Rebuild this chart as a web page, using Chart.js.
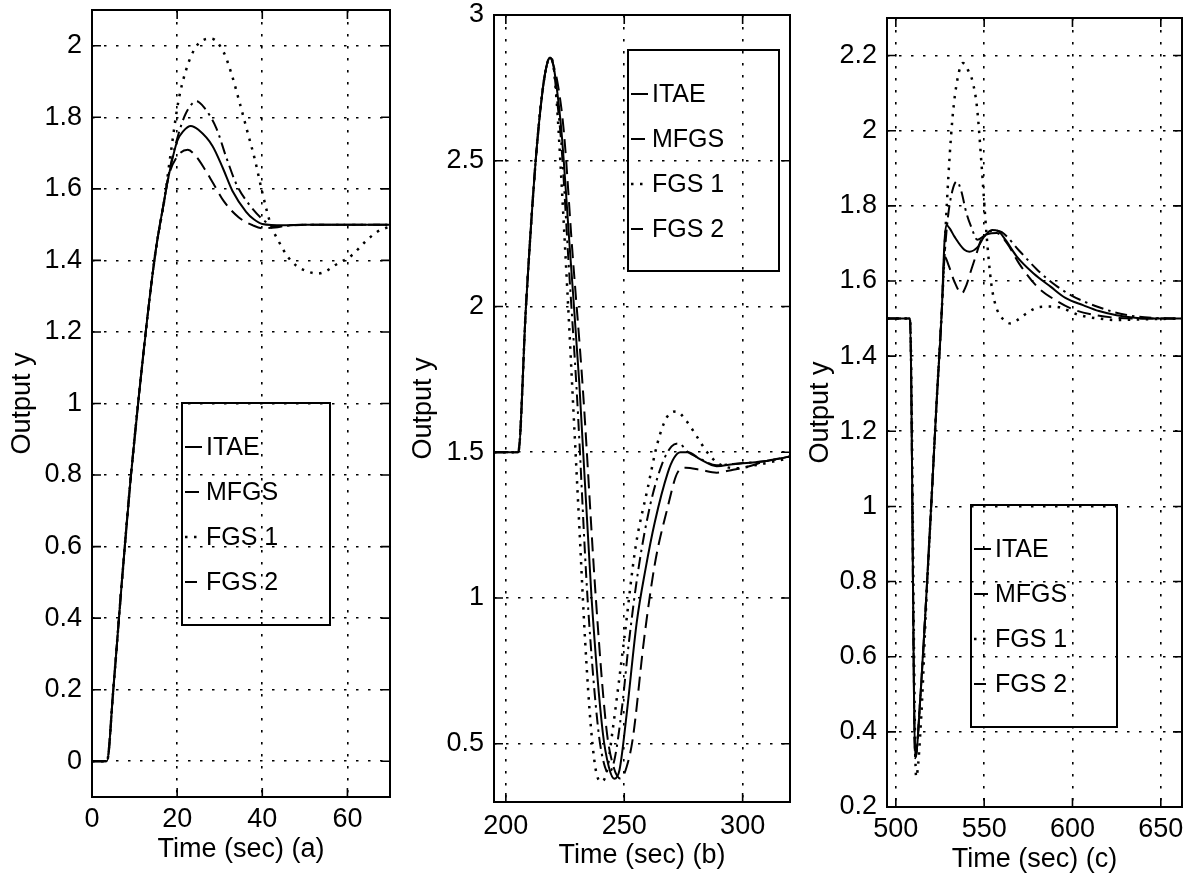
<!DOCTYPE html>
<html><head><meta charset="utf-8">
<script src="https://cdn.jsdelivr.net/npm/chart.js@4.4.1/dist/chart.umd.min.js"></script>
<style>
html,body{margin:0;padding:0;background:#fff;width:1194px;height:879px;overflow:hidden;}
canvas{position:absolute;top:0;}
</style></head><body>
<canvas id="ca" width="398" height="879" style="left:0px;width:398px;height:879px"></canvas>
<canvas id="cb" width="399" height="879" style="left:398px;width:399px;height:879px"></canvas>
<canvas id="cc" width="397" height="879" style="left:797px;width:397px;height:879px"></canvas>
<script>
// ---------- series names ----------
const seriesNames = ['ITAE', 'MFGS', 'FGS 1', 'FGS 2'];

// ---------- panel (a) ----------
const aXTicks = [0, 20, 40, 60];
const aYTicks = [0, 0.2, 0.4, 0.6, 0.8, 1, 1.2, 1.4, 1.6, 1.8, 2];
const aRampT = [0, 3.5, 5, 7, 9, 11, 13, 15, 17];
const aRampY = [0, 0, 0.2, 0.5, 0.78, 1.02, 1.24, 1.43, 1.57];
const aItaeT = [18, 20, 21.5, 23.2, 25, 28.3, 30.7, 33, 36.2, 38, 40, 45, 50, 70];
const aItaeY = [1.635, 1.733, 1.762, 1.776, 1.765, 1.72, 1.659, 1.594, 1.536, 1.515, 1.502, 1.498, 1.5, 1.5];
const aMfgsT = [18, 20, 22.5, 24.5, 26.5, 28.5, 31, 34.5, 37.8, 40, 43, 46, 50, 70];
const aMfgsY = [1.635, 1.69, 1.709, 1.69, 1.655, 1.615, 1.565, 1.52, 1.498, 1.49, 1.492, 1.498, 1.5, 1.5];
const aFgs1T = [18.5, 20.3, 22.3, 24.3, 26, 28, 31, 32.7, 34.7, 36.5, 38.3, 40, 42, 44, 46, 48, 50, 53, 55, 57, 61, 64, 67, 70];
const aFgs1Y = [1.7, 1.845, 1.94, 1.995, 2.015, 2.02, 1.98, 1.924, 1.84, 1.76, 1.68, 1.59, 1.5, 1.45, 1.41, 1.385, 1.372, 1.363, 1.37, 1.386, 1.414, 1.45, 1.48, 1.495];
const aFgs2T = [18, 20, 22, 24.6, 26.5, 29.2, 31.6, 34, 37, 39.9, 43, 46, 50, 70];
const aFgs2Y = [1.64, 1.74, 1.81, 1.845, 1.825, 1.77, 1.686, 1.611, 1.555, 1.517, 1.495, 1.497, 1.5, 1.5];

// ---------- panel (b) ----------
const bXTicks = [200, 250, 300];
const bYTicks = [0.5, 1, 1.5, 2, 2.5, 3];
const bStartT = [195, 205.2, 208.5, 212.6, 215.5, 217.5, 218.7, 220];
const bStartY = [1.5, 1.5, 2.0, 2.5, 2.74, 2.835, 2.853, 2.83];
const bItaeT = [221.5, 223.5, 227, 231, 236.2, 240.9, 243.5, 245.8, 248, 251, 255.3, 259, 262.9, 268.4, 271, 273.7, 277, 282, 289, 296, 310, 320];
const bItaeY = [2.75, 2.6, 2.2, 1.74, 1.0, 0.541, 0.42, 0.38, 0.41, 0.6, 0.918, 1.1, 1.26, 1.43, 1.48, 1.5, 1.5, 1.476, 1.452, 1.459, 1.47, 1.485];
const bMfgsT = [222, 224.5, 228, 232.5, 238, 242.5, 245.5, 248.5, 251, 253.6, 258.4, 263, 268, 272.5, 276, 282, 289, 296, 302, 310, 320];
const bMfgsY = [2.76, 2.6, 2.2, 1.72, 1.0, 0.55, 0.42, 0.38, 0.42, 0.517, 0.86, 1.12, 1.3, 1.43, 1.447, 1.44, 1.43, 1.44, 1.45, 1.47, 1.485];
const bFgs1T = [221.5, 223, 226, 228.5, 231, 233.5, 236, 238.5, 240.5, 242.5, 245, 250, 254.7, 260, 264, 268, 272, 276, 280.5, 285, 290, 297.5, 305, 320];
const bFgs1Y = [2.7, 2.5, 2.05, 1.65, 1.25, 0.85, 0.55, 0.39, 0.37, 0.4, 0.54, 0.86, 1.17, 1.38, 1.53, 1.62, 1.64, 1.61, 1.556, 1.5, 1.46, 1.445, 1.455, 1.48];
const bFgs2T = [221.5, 223.5, 226.5, 230, 234.5, 239, 241.5, 243.5, 246, 249, 252, 256, 261, 266, 270, 273, 277, 282, 289, 296, 310, 320];
const bFgs2Y = [2.72, 2.55, 2.15, 1.7, 1.0, 0.55, 0.43, 0.4, 0.45, 0.62, 0.85, 1.1, 1.32, 1.46, 1.52, 1.53, 1.5, 1.478, 1.455, 1.46, 1.47, 1.485];

// ---------- panel (c) ----------
const cXTicks = [500, 550, 600, 650];
const cYTicks = [0.2, 0.4, 0.6, 0.8, 1, 1.2, 1.4, 1.6, 1.8, 2, 2.2];
const cStartT = [495, 508, 511, 514, 517, 520, 523, 526];
const cStartY = [1.5, 1.5, 0.33, 0.5, 0.74, 1.0, 1.27, 1.52];
const cFgs1StartT = [495, 508, 511.5, 514.5, 517, 520, 523, 526];
const cFgs1StartY = [1.5, 1.5, 0.28, 0.45, 0.72, 1.0, 1.27, 1.52];
const cItaeT = [527.5, 528.6, 530.5, 533.2, 538.8, 541.6, 546.3, 550, 554.5, 558, 562, 568.5, 578, 587.6, 596, 606.3, 615, 625, 643.6, 662];
const cItaeY = [1.7, 1.749, 1.74, 1.718, 1.683, 1.678, 1.69, 1.718, 1.736, 1.733, 1.71, 1.665, 1.62, 1.585, 1.555, 1.535, 1.52, 1.509, 1.5, 1.5];
const cMfgsT = [527.6, 530, 533, 537.3, 540, 542.7, 545.5, 548.3, 552, 557, 563, 570, 580, 590, 600, 612, 625, 640, 662];
const cMfgsY = [1.665, 1.64, 1.6, 1.567, 1.59, 1.63, 1.67, 1.71, 1.725, 1.728, 1.7, 1.645, 1.585, 1.55, 1.525, 1.51, 1.502, 1.5, 1.5];
const cFgs1T = [529, 532, 535, 538, 541, 543.5, 546, 548.6, 551.3, 554, 556.5, 559.6, 565, 570, 574, 581.5, 588, 592.7, 604, 615, 625, 640, 662];
const cFgs1Y = [1.816, 2.03, 2.14, 2.18, 2.16, 2.13, 2.06, 1.905, 1.727, 1.594, 1.535, 1.505, 1.487, 1.5, 1.514, 1.531, 1.532, 1.53, 1.509, 1.5, 1.496, 1.498, 1.5];
const cFgs2T = [527.5, 529.5, 532, 534.5, 537, 540, 543, 546, 550, 555, 560, 570, 580, 590, 600, 615, 630, 645, 662];
const cFgs2Y = [1.66, 1.77, 1.84, 1.865, 1.84, 1.78, 1.74, 1.71, 1.72, 1.735, 1.73, 1.68, 1.63, 1.59, 1.56, 1.53, 1.51, 1.502, 1.5];

// ---------- helpers ----------
function pts(tArr, yArr) { return tArr.map((t, i) => ({ x: t, y: yArr[i] })); }
const FONT = "'Liberation Sans', Arial, sans-serif";
const lineStyles = [
  { dash: [], width: 2 },                 // ITAE solid
  { dash: [14, 7], width: 2 },            // MFGS dashed
  { dash: [2.5, 6.5], width: 2.5 },       // FGS 1 dotted
  { dash: [12, 5, 2.5, 5], width: 2 }     // FGS 2 dash-dot
];
function fmt(v) { return String(+(+v).toFixed(2)); }

const framePlugin = {
  id: 'frame',
  afterDraw(chart, args, opts) {
    const { ctx, chartArea: { left, right, top, bottom }, scales: { x, y } } = chart;
    ctx.save();
    ctx.setLineDash([]);
    ctx.strokeStyle = '#000';
    ctx.lineWidth = 2;
    ctx.strokeRect(left, top, right - left, bottom - top);
    const tk = 9;
    ctx.lineWidth = 1.6;
    ctx.beginPath();
    y.ticks.forEach(t => {
      const py = y.getPixelForValue(t.value);
      ctx.moveTo(left, py); ctx.lineTo(left + tk, py);
      ctx.moveTo(right, py); ctx.lineTo(right - tk, py);
    });
    x.ticks.forEach(t => {
      const px = x.getPixelForValue(t.value);
      ctx.moveTo(px, bottom); ctx.lineTo(px, bottom - tk);
      ctx.moveTo(px, top); ctx.lineTo(px, top + tk);
    });
    ctx.stroke();
    // legend box
    const L = opts.legend;
    if (L) {
      ctx.lineWidth = 2;
      ctx.strokeRect(L.x, L.y, L.w, L.h);
      ctx.font = '25px ' + FONT;
      ctx.fillStyle = '#000';
      ctx.textBaseline = 'middle';
      ctx.textAlign = 'left';
      seriesNames.forEach((name, i) => {
        const ry = L.y + 44 + 45 * i;
        const st = lineStyles[i];
        ctx.setLineDash(st.dash);
        ctx.lineWidth = st.width;
        ctx.beginPath();
        ctx.moveTo(L.x + 3, ry); ctx.lineTo(L.x + 20, ry);
        ctx.stroke();
        ctx.setLineDash([]);
        ctx.fillText(name, L.x + 24, ry + 1);
      });
    }
    ctx.restore();
  }
};

function makePanel(id, P) {
  const datasets = P.series.map((s, i) => ({
    label: seriesNames[i],
    data: pts(s[0], s[1]),
    borderColor: '#000',
    borderWidth: lineStyles[i].width,
    borderDash: lineStyles[i].dash,
    borderCapStyle: 'butt',
    pointRadius: 0,
    fill: false,
    cubicInterpolationMode: 'monotone'
  }));
  const tickFont = { family: FONT, size: 27 };
  new Chart(document.getElementById(id), {
    type: 'line',
    data: { datasets },
    plugins: [framePlugin],
    options: {
      responsive: false,
      animation: false,
      devicePixelRatio: 1,
      layout: { padding: { left: 0, right: P.padR, top: P.top, bottom: 0 } },
      plugins: {
        legend: { display: false },
        tooltip: { enabled: false },
        frame: { legend: P.legend }
      },
      scales: {
        x: {
          type: 'linear', min: P.xMin, max: P.xMax,
          afterBuildTicks: s => { s.ticks = P.xTicks.map(v => ({ value: v })); },
          afterFit: s => { s.height = P.xH; s.paddingLeft = 0; s.paddingRight = 0; s.paddingTop = 0; s.paddingBottom = 0; },
          grid: { color: '#000', lineWidth: 1.6, drawTicks: false },
          border: { display: false, dash: [2.5, 9.5] },
          ticks: { color: '#000', font: tickFont, padding: P.xTickPad, maxRotation: 0, autoSkip: false, callback: fmt },
          title: { display: true, text: P.xTitle, color: '#000', font: tickFont, padding: { top: 0, bottom: P.xTitlePad } }
        },
        y: {
          type: 'linear', min: P.yMin, max: P.yMax,
          afterBuildTicks: s => { s.ticks = P.yTicks.map(v => ({ value: v })); },
          afterFit: s => { s.width = P.yW; s.paddingTop = 0; s.paddingBottom = 0; s.paddingLeft = 0; s.paddingRight = 0; },
          grid: { color: '#000', lineWidth: 1.6, drawTicks: false },
          border: { display: false, dash: [2.5, 9.5] },
          ticks: { color: '#000', font: tickFont, padding: 10, autoSkip: false, callback: fmt },
          title: { display: true, text: 'Output y', color: '#000', font: tickFont, padding: { top: P.yTitlePad, bottom: 0 } }
        }
      }
    }
  });
}

makePanel('ca', {
  series: [
    [aRampT.concat(aItaeT), aRampY.concat(aItaeY)],
    [aRampT.concat(aMfgsT), aRampY.concat(aMfgsY)],
    [aRampT.concat(aFgs1T), aRampY.concat(aFgs1Y)],
    [aRampT.concat(aFgs2T), aRampY.concat(aFgs2Y)]
  ],
  xMin: 0, xMax: 70, yMin: -0.1, yMax: 2.1, xTicks: aXTicks, yTicks: aYTicks,
  padR: 8, top: 10, xH: 82, yW: 92, xTickPad: 6, xTitlePad: 13, yTitlePad: 6,
  xTitle: 'Time (sec) (a)',
  legend: { x: 182, y: 403, w: 148, h: 222 }
});

makePanel('cb', {
  series: [
    [bStartT.concat(bItaeT), bStartY.concat(bItaeY)],
    [bStartT.concat(bMfgsT), bStartY.concat(bMfgsY)],
    [bStartT.concat(bFgs1T), bStartY.concat(bFgs1Y)],
    [bStartT.concat(bFgs2T), bStartY.concat(bFgs2Y)]
  ],
  xMin: 195, xMax: 320, yMin: 0.3, yMax: 3, xTicks: bXTicks, yTicks: bYTicks,
  padR: 7, top: 15, xH: 77, yW: 96, xTickPad: 8, xTitlePad: 7, yTitlePad: 9,
  xTitle: 'Time (sec) (b)',
  legend: { x: 230, y: 50, w: 151, h: 221 }
});

makePanel('cc', {
  series: [
    [cStartT.concat(cItaeT), cStartY.concat(cItaeY)],
    [cStartT.concat(cMfgsT), cStartY.concat(cMfgsY)],
    [cFgs1StartT.concat(cFgs1T), cFgs1StartY.concat(cFgs1Y)],
    [cStartT.concat(cFgs2T), cStartY.concat(cFgs2Y)]
  ],
  xMin: 495, xMax: 662, yMin: 0.2, yMax: 2.3, xTicks: cXTicks, yTicks: cYTicks,
  padR: 12, top: 18, xH: 72, yW: 90, xTickPad: 6, xTitlePad: 3, yTitlePad: 7,
  xTitle: 'Time (sec) (c)',
  legend: { x: 174, y: 505, w: 146, h: 222 }
});
</script>
</body></html>
